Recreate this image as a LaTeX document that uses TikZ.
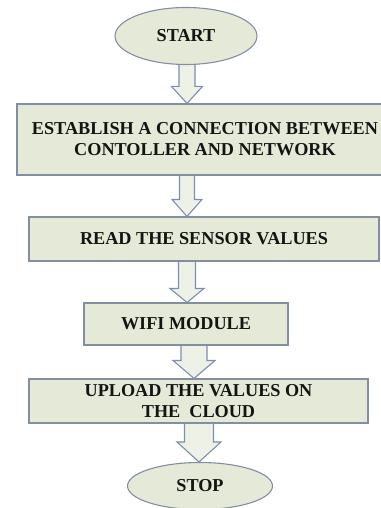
\documentclass[tikz,border=0pt]{standalone}
\usepackage{fontspec}
\setmainfont{Liberation Serif}
\usetikzlibrary{shapes.geometric,calc,backgrounds}
\definecolor{boxfill}{HTML}{E5EAD8}
\definecolor{boxline}{HTML}{848EA3}
\definecolor{arrline}{HTML}{7D8CB3}
\definecolor{arrfill}{HTML}{EEF2E6}
\definecolor{txt}{HTML}{141414}
\tikzset{
  stepbox/.style={rectangle, draw=boxline, fill=boxfill, line width=1.1pt, inner sep=0pt,
    align=center, text=txt, font=\bfseries\fontsize{18.2}{21}\selectfont},
  termnode/.style={ellipse, draw=boxline, fill=boxfill, line width=1.1pt, inner sep=0pt,
    text=txt, font=\bfseries\fontsize{18.2}{21}\selectfont},
  blockarrow/.style={draw=arrline, fill=arrfill, line width=1.1pt, line join=miter}
}
% #1 x, #2 source node, #3 target node, #4 shaft half width, #5 head half width, #6 head length
\newcommand\blockarr[6]{%
  \draw[blockarrow] let \p1=(#2.south), \p2=(#3.north) in
   (#1pt-#4pt, \y1+3pt) -- (#1pt-#4pt, \y2+#6pt) -- (#1pt-#5pt, \y2+#6pt) -- (#1pt, \y2)
   -- (#1pt+#5pt, \y2+#6pt) -- (#1pt+#4pt, \y2+#6pt) -- (#1pt+#4pt, \y1+3pt) -- cycle;}
\begin{document}
\begin{tikzpicture}[x=1pt,y=-1pt]
\useasboundingbox (0,0) rectangle (380,508);
\node[termnode, minimum width=142pt, minimum height=57pt] (start) at (186,36) {START};
\node[stepbox, minimum width=376pt, minimum height=71pt] (est) at (205,139.5)
  {ESTABLISH A CONNECTION BETWEEN\\CONTOLLER AND NETWORK};
\node[stepbox, minimum width=350pt, minimum height=44pt] (read) at (204,239) {READ THE SENSOR VALUES};
\node[stepbox, minimum width=204pt, minimum height=42pt] (wifi) at (186,324) {WIFI MODULE};
\node[stepbox, minimum width=339pt, minimum height=44pt] (upload) at (198.5,401)
  {UPLOAD THE VALUES ON\\THE\ \ CLOUD};
\node[termnode, minimum width=145pt, minimum height=47pt] (stop) at (200,486) {STOP};
\begin{scope}[on background layer]
\blockarr{187}{start}{est}{8}{15.5}{17}
\blockarr{187}{est}{read}{7.5}{15}{17}
\blockarr{187}{read}{wifi}{8.5}{17}{14}
\blockarr{194}{wifi}{upload}{13}{21}{18}
\blockarr{199}{upload}{stop}{14.5}{22}{20}
\end{scope}
\end{tikzpicture}
\end{document}
